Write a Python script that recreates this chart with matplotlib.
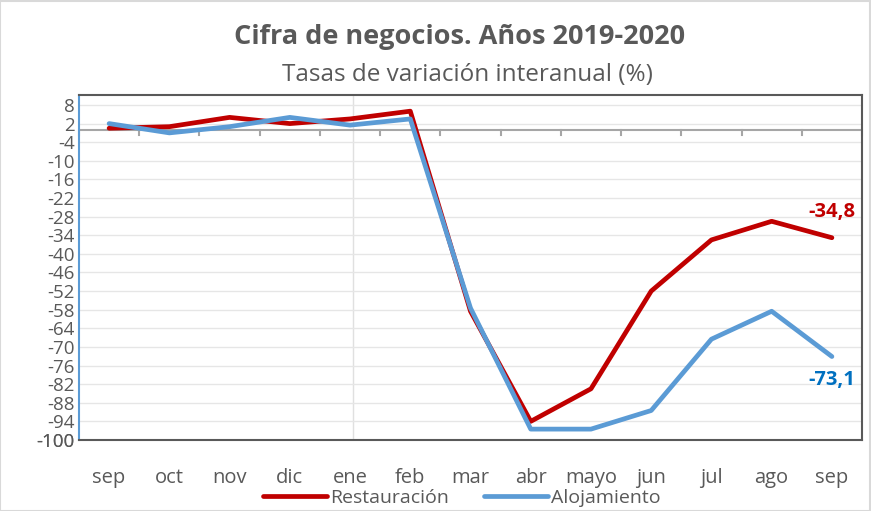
import numpy as np
import matplotlib
matplotlib.use('Agg')
import matplotlib.pyplot as plt

plt.rcParams['font.family'] = ['Open Sans', 'DejaVu Sans']

# data
meses = ['sep', 'oct', 'nov', 'dic', 'ene', 'feb', 'mar', 'abr', 'mayo', 'jun', 'jul', 'ago', 'sep']
restauracion = [0.5, 1.0, 4.0, 2.0, 3.5, 6.0, -58.5, -94.0, -83.5, -52.0, -35.5, -29.5, -34.8]
alojamiento = [2.0, -1.0, 1.0, 4.0, 1.5, 3.5, -57.5, -96.5, -96.5, -90.5, -67.5, -58.5, -73.1]
yticks = list(range(8, -101, -6)) + [-100]

rojo = '#C00000'
azul = '#5B9BD5'
gris = '#595959'

fig = plt.figure(figsize=(8.71, 5.11), dpi=100)
ax = fig.add_axes([0.0907, 0.139, 0.899, 0.675])

x = np.arange(len(meses))
ax.plot(x, restauracion, color=rojo, lw=3.4, solid_capstyle='round', label='Restauración', zorder=3)
ax.plot(x, alojamiento, color=azul, lw=3.4, solid_capstyle='round', label='Alojamiento', zorder=4)

ax.set_xlim(-0.5, len(meses) - 0.5)
ax.set_ylim(-100, 11.2)
ax.set_yticks(yticks)
ax.set_yticklabels([str(v) for v in yticks])
ax.set_xticks(x)
ax.set_xticklabels(meses)
ax.tick_params(axis='both', length=0, colors=gris)
ax.tick_params(axis='y', labelsize=13.5, pad=3)
ax.tick_params(axis='x', labelsize=14.5, pad=20)
ax.grid(axis='y', color='#E6E6E6', lw=1.0, zorder=0)
ax.axvline(4.05, color='#E0E0E0', lw=1.0, zorder=1)

# zero line with category tick marks (pointing down)
ax.axhline(0, color='#A6A6A6', lw=1.5, zorder=2)
for b in np.arange(-0.5, len(meses)):
    ax.plot([b, b], [0, -1.8], color='#A6A6A6', lw=1.5, zorder=2, clip_on=False)

for s in ['top', 'right', 'bottom']:
    ax.spines[s].set_color(gris)
    ax.spines[s].set_linewidth(1.5)
ax.spines['left'].set_color(azul)
ax.spines['left'].set_linewidth(1.5)

ax.annotate('-34,8', (x[-1], restauracion[-1]), xytext=(0, 11), textcoords='offset points',
            ha='center', va='bottom', color=rojo, fontsize=14.5, fontweight='bold')
ax.annotate('-73,1', (x[-1], alojamiento[-1]), xytext=(0, -10), textcoords='offset points',
            ha='center', va='top', color='#0070C0', fontsize=14.5, fontweight='bold')

fig.text(0.528, 0.927, 'Cifra de negocios. Años 2019-2020', ha='center', va='center',
         fontsize=19.5, fontweight='bold', color=gris)
fig.text(0.537, 0.853, 'Tasas de variación interanual (%)', ha='center', va='center',
         fontsize=17.5, color=gris)

fig.legend(loc='center', bbox_to_anchor=(0.53, 0.025), ncol=2, frameon=False,
           fontsize=14, labelcolor=gris, handlelength=3.3, columnspacing=1.8, handletextpad=0.15,
           borderpad=0.1)

fig.patches.append(plt.Rectangle((0.0, 0.0), 0.999, 0.999, transform=fig.transFigure,
                                 fill=False, edgecolor='#D9D9D9', lw=1.5))

fig.savefig('out.png', dpi=100)
